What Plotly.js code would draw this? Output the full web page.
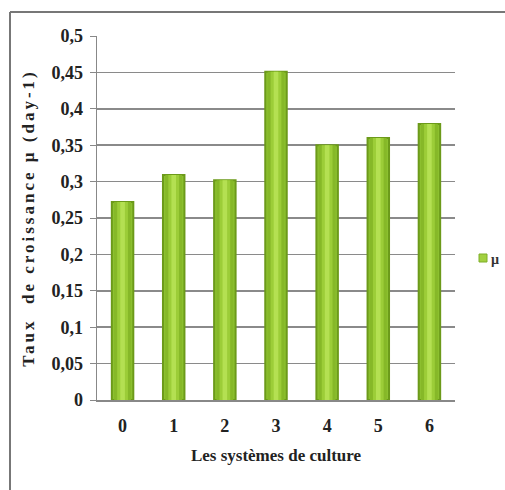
<!DOCTYPE html>
<html>
<head>
<meta charset="utf-8">
<script src="https://cdn.plot.ly/plotly-3.0.1.min.js"></script>
<style>html,body{margin:0;padding:0;background:#fff;}#chart{width:505px;height:490px;}</style>
</head>
<body>
<div id="chart"></div>
<script>
const categories = ["0", "1", "2", "3", "4", "5", "6"];
const muValues = [0.272, 0.309, 0.302, 0.451, 0.350, 0.360, 0.379];
const seriesName = "µ";
const yTickVals = [0, 0.05, 0.1, 0.15, 0.2, 0.25, 0.3, 0.35, 0.4, 0.45, 0.5];
const yTickText = ["0", "0,05", "0,1", "0,15", "0,2", "0,25", "0,3", "0,35", "0,4", "0,45", "0,5"];

const fam = "Liberation Serif, Times New Roman, serif";

const layers = [
  {w: 0.42, c: "#8cc030", line: true},
  {w: 0.33, c: "#86b828", line: false},
  {w: 0.21, c: "#9ccd38", line: false},
  {w: 0.09, c: "#b4e052", line: false}
];
const traces = layers.map(l => ({
  type: "bar",
  x: categories,
  y: muValues,
  name: seriesName,
  width: l.w,
  marker: {color: l.c, line: l.line ? {color: "#6c9a1a", width: 2} : {width: 0}},
  showlegend: false,
  hoverinfo: "y"
}));

const L = 97, R = 50, T = 36, B = 90, W = 505, H = 490;
const pw = W - L - R, ph = H - T - B;
const px = v => (v - L) / pw;
const py = v => (H - B - v) / ph;

const layout = {
  width: W, height: H,
  margin: {l: L, r: R, t: T, b: B, autoexpand: false},
  paper_bgcolor: "#fff", plot_bgcolor: "#fff",
  barmode: "overlay",
  font: {family: fam, size: 14, color: "#222"},
  showlegend: false,
  xaxis: {
    type: "category", range: [-0.5, 6.5],
    showgrid: false, showline: true, linecolor: "#888", linewidth: 1.5,
    ticks: "", ticklabelstandoff: 9,
    tickfont: {family: fam, size: 18, color: "#222", weight: "bold"},
    title: {text: "Les systèmes de culture", standoff: 14,
            font: {family: fam, size: 17, color: "#222", weight: "bold"}}
  },
  yaxis: {
    range: [0, 0.5], tickvals: yTickVals, ticktext: yTickText,
    showgrid: true, gridcolor: "#8a8a8a", gridwidth: 1.5,
    showline: true, linecolor: "#888", linewidth: 1.5,
    ticks: "outside", ticklen: 6, tickcolor: "#888", ticklabelstandoff: 3,
    zeroline: false,
    tickfont: {family: fam, size: 18, color: "#222", weight: "bold"},
    title: {text: "Taux  de croissance µ (day-1)", standoff: 12,
            font: {family: fam, size: 17, color: "#222", weight: "bold"}}
  },
  shapes: [
    {type: "line", xref: "paper", yref: "paper", x0: px(10), x1: px(10), y0: py(12), y1: py(490),
     line: {color: "#777", width: 2}},
    {type: "line", xref: "paper", yref: "paper", x0: px(10), x1: px(505), y0: py(12), y1: py(12),
     line: {color: "#777", width: 2}},
    {type: "rect", xref: "paper", yref: "paper", x0: px(479), x1: px(487), y0: py(262), y1: py(254),
     fillcolor: "#a2d040", line: {color: "#7fae28", width: 1}}
  ],
  annotations: [
    {xref: "paper", yref: "paper", x: px(489), y: py(259), xanchor: "left", yanchor: "middle",
     text: seriesName, showarrow: false,
     font: {family: fam, size: 14, color: "#333", weight: "bold"}}
  ]
};

Plotly.newPlot("chart", traces, layout, {displayModeBar: false, staticPlot: true}).then(() => {
  const t = document.querySelector(".ytitle");
  if (t) t.style.letterSpacing = "3px";
});
</script>
</body>
</html>
